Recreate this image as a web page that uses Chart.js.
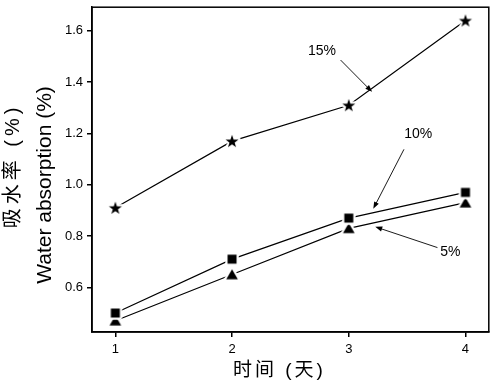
<!DOCTYPE html>
<html><head><meta charset="utf-8">
<script src="https://cdn.jsdelivr.net/npm/chart.js@4/dist/chart.umd.min.js"></script>
<style>html,body{margin:0;padding:0;background:#fff}#wrap{width:496px;height:382px}</style>
</head><body><div id="wrap"><canvas id="c" width="496" height="382"></canvas></div>
<script>
// ---- data ----
const days = [1, 2, 3, 4];
const s15 = [0.91, 1.17, 1.31, 1.64];
const s10 = [0.50, 0.71, 0.87, 0.97];
const s5  = [0.47, 0.65, 0.83, 0.93];
const xTicks = [1, 2, 3, 4];
const yTicks = [0.6, 0.8, 1.0, 1.2, 1.4, 1.6];
const seriesLabels = ['15%', '10%', '5%'];
const xTitle = '时间 (天)';
const yTitleLines = ['吸水率 (%)', 'Water absorption (%)'];

// annotation callouts, in data units: label centre, arrow start, arrow tip
const callouts = [
  { text: seriesLabels[0], label: [2.77, 1.52], from: [2.93, 1.486], to: [3.20, 1.362] },
  { text: seriesLabels[1], label: [3.595, 1.196], from: [3.473, 1.138], to: [3.21, 0.906] },
  { text: seriesLabels[2], label: [3.87, 0.739], from: [3.76, 0.755], to: [3.227, 0.836] }
];

const FONT = '"Liberation Sans", Arial, "Noto Sans CJK SC", sans-serif';

function marker(kind) {
  const S = 22, c = document.createElement('canvas');
  c.width = S; c.height = S;
  const g = c.getContext('2d');
  g.translate(S / 2, S / 2);
  g.beginPath();
  if (kind === 'square') {
    g.rect(-4.5, -4.5, 9, 9);
  } else if (kind === 'triangle') {
    g.moveTo(0, -5.2); g.lineTo(5.8, 4.8); g.lineTo(-5.8, 4.8); g.closePath();
  } else {
    const R = 6.8, r = 2.7;
    for (let i = 0; i < 10; i++) {
      const a = -Math.PI / 2 + i * Math.PI / 5;
      const rad = i % 2 ? r : R;
      const px = Math.cos(a) * rad, py = Math.sin(a) * rad + 0.6;
      i ? g.lineTo(px, py) : g.moveTo(px, py);
    }
    g.closePath();
  }
  g.lineJoin = 'round';
  g.lineWidth = 4.5; g.strokeStyle = '#fff'; g.stroke();
  g.fillStyle = '#000'; g.fill();
  return c;
}

const pts = arr => days.map((d, i) => ({ x: d, y: arr[i] }));

const frame = {
  id: 'frame',
  afterDraw(chart) {
    const { ctx, chartArea: a } = chart;
    ctx.save();
    ctx.strokeStyle = '#000'; ctx.lineWidth = 1.5;
    ctx.strokeRect(a.left, a.top, a.right - a.left, a.bottom - a.top);
    ctx.restore();
  }
};

const annot = {
  id: 'annot',
  afterDatasetsDraw(chart) {
    const { ctx, scales: { x, y } } = chart;
    ctx.save();
    ctx.fillStyle = '#000'; ctx.strokeStyle = '#000';
    ctx.font = '14px ' + FONT;
    ctx.textAlign = 'center'; ctx.textBaseline = 'middle';
    callouts.forEach(c => {
      ctx.fillText(c.text, x.getPixelForValue(c.label[0]), y.getPixelForValue(c.label[1]));
      const x1 = x.getPixelForValue(c.from[0]), y1 = y.getPixelForValue(c.from[1]);
      const x2 = x.getPixelForValue(c.to[0]), y2 = y.getPixelForValue(c.to[1]);
      const ang = Math.atan2(y2 - y1, x2 - x1);
      const L = 7, W = 2.6;
      ctx.lineWidth = 0.9;
      ctx.beginPath(); ctx.moveTo(x1, y1);
      ctx.lineTo(x2 - Math.cos(ang) * L * 0.8, y2 - Math.sin(ang) * L * 0.8); ctx.stroke();
      ctx.beginPath();
      ctx.moveTo(x2, y2);
      ctx.lineTo(x2 - Math.cos(ang) * L - Math.sin(ang) * W, y2 - Math.sin(ang) * L + Math.cos(ang) * W);
      ctx.lineTo(x2 - Math.cos(ang) * L + Math.sin(ang) * W, y2 - Math.sin(ang) * L - Math.cos(ang) * W);
      ctx.closePath(); ctx.fill();
    });
    ctx.restore();
  }
};

const titles = {
  id: 'titles',
  afterDraw(chart) {
    const { ctx, chartArea: a } = chart;
    ctx.save();
    ctx.fillStyle = '#000';
    ctx.textAlign = 'center'; ctx.textBaseline = 'middle';
    ctx.font = '19px ' + FONT;
    if ('letterSpacing' in ctx) ctx.letterSpacing = '3px';
    ctx.fillText(xTitle, (a.left + a.right) / 2 - 11, 371);
    ctx.rotate(-Math.PI / 2);
    ctx.font = '20px ' + FONT;
    if ('letterSpacing' in ctx) ctx.letterSpacing = '4px';
    ctx.fillText(yTitleLines[0], -166, 13);
    ctx.font = '21px ' + FONT;
    if ('letterSpacing' in ctx) ctx.letterSpacing = '0px';
    ctx.fillText(yTitleLines[1], -185, 45);
    ctx.restore();
  }
};

const axisCommon = {
  type: 'linear',
  grid: { display: true, drawOnChartArea: false, drawTicks: true, tickLength: 5, color: '#000', lineWidth: 1.5 },
  border: { display: true, color: '#000', width: 1.5 },
  ticks: { color: '#000', font: { size: 13, family: FONT } }
};

new Chart(document.getElementById('c'), {
  type: 'line',
  data: {
    datasets: [
      { label: seriesLabels[0], data: pts(s15), pointStyle: marker('star') },
      { label: seriesLabels[1], data: pts(s10), pointStyle: marker('square') },
      { label: seriesLabels[2], data: pts(s5), pointStyle: marker('triangle') }
    ].map(d => Object.assign(d, { borderColor: '#000', borderWidth: 1.2, tension: 0, fill: false, pointRadius: 6 }))
  },
  options: {
    responsive: false,
    animation: false,
    events: [],
    layout: { padding: { top: 1, right: 4, left: 0, bottom: 0 } },
    plugins: { legend: { display: false }, tooltip: { enabled: false } },
    scales: {
      x: Object.assign({}, axisCommon, {
        min: 0.8, max: 4.2,
        afterBuildTicks: s => { s.ticks = xTicks.map(v => ({ value: v })); },
        afterFit: s => { s.height = 50; s.paddingLeft = 0; s.paddingRight = 0; },
        ticks: Object.assign({}, axisCommon.ticks, { padding: 5, callback: v => String(v) })
      }),
      y: Object.assign({}, axisCommon, {
        min: 0.426, max: 1.692,
        afterBuildTicks: s => { s.ticks = yTicks.map(v => ({ value: v })); },
        afterFit: s => { s.width = 92; s.paddingTop = 0; s.paddingBottom = 0; },
        ticks: Object.assign({}, axisCommon.ticks, { padding: 4, callback: v => v.toFixed(1) })
      })
    }
  },
  plugins: [frame, annot, titles]
});
</script></body></html>
